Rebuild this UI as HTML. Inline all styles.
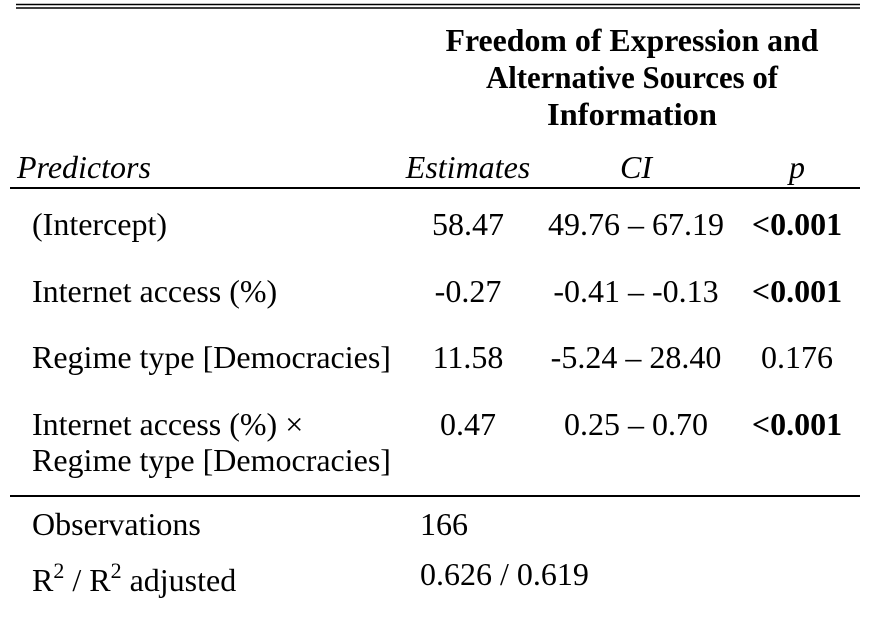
<!DOCTYPE html>
<html><head><meta charset="utf-8"><style>
html,body{margin:0;padding:0;background:#fff;width:886px;height:618px;overflow:hidden}
svg{display:block}
text{font-family:"Liberation Serif",serif;font-size:32px;fill:#000}
.b{font-weight:bold}
.i{font-style:italic}
</style></head><body>
<svg width="886" height="618" viewBox="0 0 886 618">
<line x1="16" y1="4.5" x2="860" y2="4.5" stroke="#000" stroke-width="1.5"/>
<line x1="16" y1="8" x2="860" y2="8" stroke="#000" stroke-width="1.5"/>
<g text-anchor="middle">
<text class="b" x="632" y="51" textLength="373" lengthAdjust="spacingAndGlyphs">Freedom of Expression and</text>
<text class="b" x="632" y="88" textLength="292" lengthAdjust="spacingAndGlyphs">Alternative Sources of</text>
<text class="b" x="632" y="125" textLength="170" lengthAdjust="spacingAndGlyphs">Information</text>
</g>
<text class="i" x="17" y="178">Predictors</text>
<text class="i" x="468" y="178" text-anchor="middle">Estimates</text>
<text class="i" x="636" y="178" text-anchor="middle">CI</text>
<text class="i" x="797" y="178" text-anchor="middle">p</text>
<line x1="10" y1="188" x2="860" y2="188" stroke="#000" stroke-width="2"/>

<g>
<text x="32" y="235">(Intercept)</text>
<text x="468" y="235" text-anchor="middle">58.47</text>
<text x="636" y="235" text-anchor="middle">49.76 – 67.19</text>
<text class="b" x="797" y="235" text-anchor="middle">&lt;0.001</text>
</g>
<g>
<text x="32" y="302">Internet access (%)</text>
<text x="468" y="302" text-anchor="middle">-0.27</text>
<text x="636" y="302" text-anchor="middle">-0.41 – -0.13</text>
<text class="b" x="797" y="302" text-anchor="middle">&lt;0.001</text>
</g>
<g>
<text x="32" y="368">Regime type [Democracies]</text>
<text x="468" y="368" text-anchor="middle">11.58</text>
<text x="636" y="368" text-anchor="middle">-5.24 – 28.40</text>
<text x="797" y="368" text-anchor="middle">0.176</text>
</g>
<g>
<text x="32" y="435">Internet access (%) ×</text>
<text x="32" y="471">Regime type [Democracies]</text>
<text x="468" y="435" text-anchor="middle">0.47</text>
<text x="636" y="435" text-anchor="middle">0.25 – 0.70</text>
<text class="b" x="797" y="435" text-anchor="middle">&lt;0.001</text>
</g>
<line x1="10" y1="496" x2="860" y2="496" stroke="#000" stroke-width="2"/>
<g>
<text x="32" y="535">Observations</text>
<text x="420" y="535">166</text>
</g>
<g>
<text x="32" y="591">R<tspan font-size="22" dy="-13">2</tspan><tspan dy="13"> / R</tspan><tspan font-size="22" dy="-13">2</tspan><tspan dy="13"> adjusted</tspan></text>
<text x="420" y="585">0.626 / 0.619</text>
</g>
</svg>
</body></html>
